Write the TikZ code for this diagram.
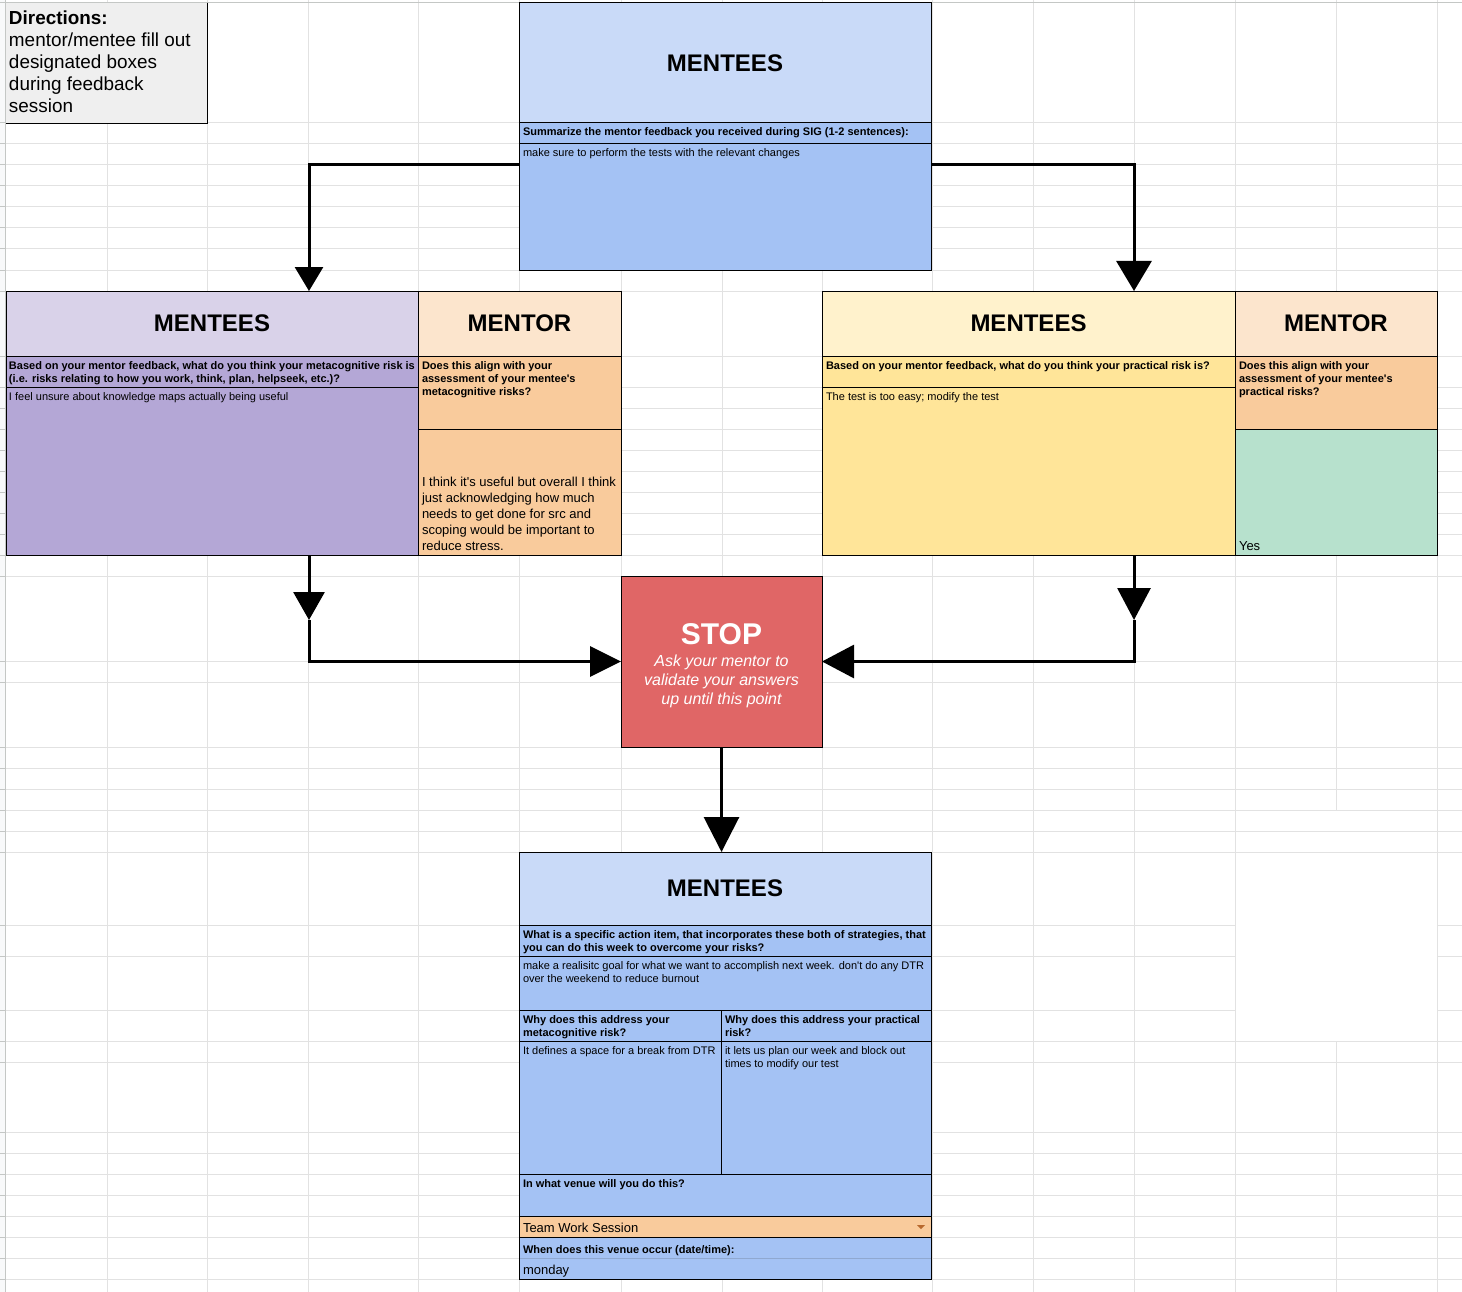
\documentclass[tikz,border=0pt]{standalone}
\usepackage{fontspec}
\setmainfont{Liberation Sans}
\usetikzlibrary{arrows.meta}
\definecolor{hdrblue}{HTML}{C9DAF8}
\definecolor{blue2}{HTML}{A4C2F4}
\definecolor{lpurple}{HTML}{D9D2E9}
\definecolor{purple2}{HTML}{B4A7D6}
\definecolor{lyellow}{HTML}{FFF2CC}
\definecolor{yellow2}{HTML}{FFE599}
\definecolor{lorange}{HTML}{FCE5CD}
\definecolor{orange2}{HTML}{F9CB9C}
\definecolor{green2}{HTML}{B7E1CD}
\definecolor{stopred}{HTML}{E06666}
\definecolor{dirgray}{HTML}{EFEFEF}
\definecolor{gridc}{HTML}{E2E2E2}
\definecolor{hdrline}{HTML}{C4C7C5}
\definecolor{stripc}{HTML}{F8F9FA}
\definecolor{chipc}{HTML}{B8692E}
\definecolor{faintline}{HTML}{8FA8D0}
\newcommand\fsm{\fontsize{11}{13}\selectfont}
\newcommand\fsmb{\fontsize{11}{13}\selectfont\bfseries}
\newcommand\fmd{\fontsize{13}{16}\selectfont}
\newcommand\fdir{\fontsize{18.9}{22}\selectfont}
\newcommand\fttl{\fontsize{24}{28}\selectfont\bfseries}
\newcommand\fstp{\fontsize{30}{34}\selectfont\bfseries}
\newcommand\fstpi{\fontsize{16}{19}\selectfont\itshape}
\newcommand\ap{\textquotesingle}
\begin{document}
\begin{tikzpicture}[x=1pt,y=-1pt,
  cellbox/.style={draw=black,line width=1pt,inner sep=0pt,outer sep=0pt,anchor=north west},
  txt/.style={anchor=north west,inner sep=0pt,outer sep=0pt,align=left,text=black},
  ttl/.style={font=\fttl,inner sep=0pt,text=black},
  conn/.style={line width=3pt,draw=black},
  gline/.style={draw=gridc,line width=1pt}]
\useasboundingbox (0,0) rectangle (1462,1292);
\fill[white] (0,0) rectangle (1462,1292);
% ---- spreadsheet grid ----
\foreach \gx in {107,207,308,418,519,621,722,822,932,1033,1134,1235,1437}
  \draw[gline] (\gx,0) -- (\gx,1292);
\draw[gline] (1336,0) -- (1336,810);
\draw[gline] (1336,1041) -- (1336,1292);
\foreach \gy in {123,144,165,186,207,228,249,270,291,356,387,408,429,450,471,492,513,534,555,576,661,682,747,768,789,810,831,852,925,956,1010,1041,1062,1132,1153,1174,1195,1216,1237,1258,1279}
  \draw[gline] (0,\gy) -- (1462,\gy);
\fill[white] (1235.5,852.5) rectangle (1436.5,1040.5);
\draw[draw=hdrline,line width=1pt] (0,3) -- (1462,3);
\fill[stripc] (0,0) rectangle (5.5,1292);
\draw[draw=hdrline,line width=1pt] (5.5,0) -- (5.5,1292);
\foreach \gy in {3,123,144,165,186,207,228,249,270,291,356,387,408,429,450,471,492,513,534,555,576,661,682,747,768,789,810,831,852,925,956,1010,1041,1062,1132,1153,1174,1195,1216,1237,1258,1279}
  \draw[draw=hdrline,line width=1pt] (0,\gy) -- (5.5,\gy);
% ---- directions ----
\node[anchor=north west,fill=dirgray,inner sep=0pt,minimum width=201pt,minimum height=120pt] (dirb) at (6,3) {};
\draw[black,line width=1pt] (dirb.north east) -- (dirb.south east) -- (dirb.south west);
\node[txt,font=\fdir] (dirt) at (9,8.8) {\strut\textbf{Directions:}\\mentor/mentee fill out\\designated boxes\\during feedback\\session};
% ---- top box ----
\node[cellbox,fill=hdrblue,minimum width=412pt,minimum height=120pt] (toph) at (519,3) {};
\node[cellbox,fill=blue2,minimum width=412pt,minimum height=21pt] (topq) at (519,123) {};
\node[cellbox,fill=blue2,minimum width=412pt,minimum height=126pt] (topa) at (519,144) {};
% ---- left boxes ----
\node[cellbox,fill=lpurple,minimum width=412pt,minimum height=65pt] (lmh) at (6,291) {};
\node[cellbox,fill=purple2,minimum width=412pt,minimum height=31pt] (lmq) at (6,356) {};
\node[cellbox,fill=purple2,minimum width=412pt,minimum height=168pt] (lma) at (6,387) {};
\node[cellbox,fill=lorange,minimum width=203pt,minimum height=65pt] (lrh) at (418,291) {};
\node[cellbox,fill=orange2,minimum width=203pt,minimum height=73pt] (lrq) at (418,356) {};
\node[cellbox,fill=orange2,minimum width=203pt,minimum height=126pt] (lra) at (418,429) {};
% ---- right boxes ----
\node[cellbox,fill=lyellow,minimum width=413pt,minimum height=65pt] (rmh) at (822,291) {};
\node[cellbox,fill=yellow2,minimum width=413pt,minimum height=31pt] (rmq) at (822,356) {};
\node[cellbox,fill=yellow2,minimum width=413pt,minimum height=168pt] (rma) at (822,387) {};
\node[cellbox,fill=lorange,minimum width=202pt,minimum height=65pt] (rrh) at (1235,291) {};
\node[cellbox,fill=orange2,minimum width=202pt,minimum height=73pt] (rrq) at (1235,356) {};
\node[cellbox,fill=green2,minimum width=202pt,minimum height=126pt] (rra) at (1235,429) {};
% ---- stop box ----
\node[cellbox,fill=stopred,minimum width=201pt,minimum height=171pt] (stop) at (621,576) {};
% ---- bottom box ----
\node[cellbox,fill=hdrblue,minimum width=412pt,minimum height=73pt] (bmh) at (519,852) {};
\node[cellbox,fill=blue2,minimum width=412pt,minimum height=31pt] (bmq) at (519,925) {};
\node[cellbox,fill=blue2,minimum width=412pt,minimum height=54pt] (bma) at (519,956) {};
\node[cellbox,fill=blue2,minimum width=202pt,minimum height=31pt] (bw1) at (519,1010) {};
\node[cellbox,fill=blue2,minimum width=210pt,minimum height=31pt] (bw2) at (721,1010) {};
\node[cellbox,fill=blue2,minimum width=202pt,minimum height=133pt] (ba1) at (519,1041) {};
\node[cellbox,fill=blue2,minimum width=210pt,minimum height=133pt] (ba2) at (721,1041) {};
\node[cellbox,fill=blue2,minimum width=412pt,minimum height=42pt] (bv) at (519,1174) {};
\node[cellbox,fill=orange2,minimum width=412pt,minimum height=21pt] (bd) at (519,1216) {};
\node[cellbox,fill=blue2,minimum width=412pt,minimum height=21pt] (bwq) at (519,1237) {};
\node[anchor=north west,inner sep=0pt,fill=blue2,minimum width=412pt,minimum height=21pt] (bmo) at (519,1258) {};
\draw[faintline,line width=0.8pt] (bmo.north west) -- (bmo.north east);
\draw[black,line width=1pt] (bmo.north west) -- (bmo.south west) -- (bmo.south east) -- (bmo.north east);
\fill[chipc] (917,1225) -- (925,1225) -- (921,1229) -- cycle;
% ---- connectors ----
\coordinate (ka) at (309,165);
\coordinate (kb) at (1134,165);
\coordinate (kc) at (309,620);
\coordinate (kd) at (1134,620);
\draw[conn,-{Triangle[length=24pt,width=28pt]}] (topa.west |- ka) -| (lmh.north -| ka);
\draw[conn,-{Triangle[length=30pt,width=35pt]}] (topa.east |- kb) -| (rmh.north -| kb);
\draw[conn,-{Triangle[length=28pt,width=31pt]}] (lma.south -| kc) -- (kc);
\draw[conn,-{Triangle[length=31pt,width=30pt]}] (kc) |- (stop.west);
\draw[conn,-{Triangle[length=32pt,width=33pt]}] (rma.south -| kd) -- (kd);
\draw[conn,-{Triangle[length=32pt,width=33pt]}] (kd) |- (stop.east);
\draw[conn,-{Triangle[length=35pt,width=35pt]}] (stop.south) -- (stop.south |- bmh.north);
% ---- texts ----
\node[ttl] (t1) at (toph.center) {MENTEES};
\node[txt,font=\fsmb] (t2) at (523,126.9) {\strut Summarize the mentor feedback you received during SIG (1-2 sentences):};
\node[txt,font=\fsm] (t3) at (523,147.9) {\strut make sure to perform the tests with the relevant changes};
\node[ttl] (t4) at (lmh.center) {MENTEES};
\node[txt,font=\fsmb] (t5) at (9,359.9) {\strut Based on your mentor feedback, what do you think your metacognitive risk is\\(i.e. risks relating to how you work, think, plan, helpseek, etc.)?};
\node[txt,font=\fsm] (t6) at (9,390.9) {\strut I feel unsure about knowledge maps actually being useful};
\node[ttl] (t7) at (lrh.center) {MENTOR};
\node[txt,font=\fsmb] (t8) at (422,359.9) {\strut Does this align with your\\assessment of your mentee\ap s\\metacognitive risks?};
\node[txt,font=\fmd] (t9) at (422,474.8) {\strut I think it\ap s useful but overall I think\\just acknowledging how much\\needs to get done for src and\\scoping would be important to\\reduce stress.};
\node[ttl] (t10) at (rmh.center) {MENTEES};
\node[txt,font=\fsmb] (t11) at (826,359.9) {\strut Based on your mentor feedback, what do you think your practical risk is?};
\node[txt,font=\fsm] (t12) at (826,390.9) {\strut The test is too easy; modify the test};
\node[ttl] (t13) at (rrh.center) {MENTOR};
\node[txt,font=\fsmb] (t14) at (1239,359.9) {\strut Does this align with your\\assessment of your mentee\ap s\\practical risks?};
\node[txt,font=\fmd] (t15) at (1239,538.8) {\strut Yes};
\node[anchor=base,inner sep=0pt,font=\fstp,text=white] (t16) at (721.5,644) {STOP};
\node[anchor=north,inner sep=0pt,font=\fstpi,text=white,align=center] (t17) at (721.5,652.7) {\strut Ask your mentor to\\validate your answers\\up until this point};
\node[ttl] (t18) at (bmh.center) {MENTEES};
\node[txt,font=\fsmb] (t19) at (523,928.9) {\strut What is a specific action item, that incorporates these both of strategies, that\\you can do this week to overcome your risks?};
\node[txt,font=\fsm] (t20) at (523,959.9) {\strut make a realisitc goal for what we want to accomplish next week. don\ap t do any DTR\\over the weekend to reduce burnout};
\node[txt,font=\fsmb] (t21) at (523,1013.9) {\strut Why does this address your\\metacognitive risk?};
\node[txt,font=\fsmb] (t22) at (725,1013.9) {\strut Why does this address your practical\\risk?};
\node[txt,font=\fsm] (t23) at (523,1044.9) {\strut It defines a space for a break from DTR};
\node[txt,font=\fsm] (t24) at (725,1044.9) {\strut it lets us plan our week and block out\\times to modify our test};
\node[txt,font=\fsmb] (t25) at (523,1177.9) {\strut In what venue will you do this?};
\node[txt,font=\fmd] (t26) at (523,1220.8) {\strut Team Work Session};
\node[txt,font=\fsmb] (t27) at (523,1243.9) {\strut When does this venue occur (date/time):};
\node[txt,font=\fmd] (t28) at (523,1262.8) {\strut monday};
\end{tikzpicture}
\end{document}
